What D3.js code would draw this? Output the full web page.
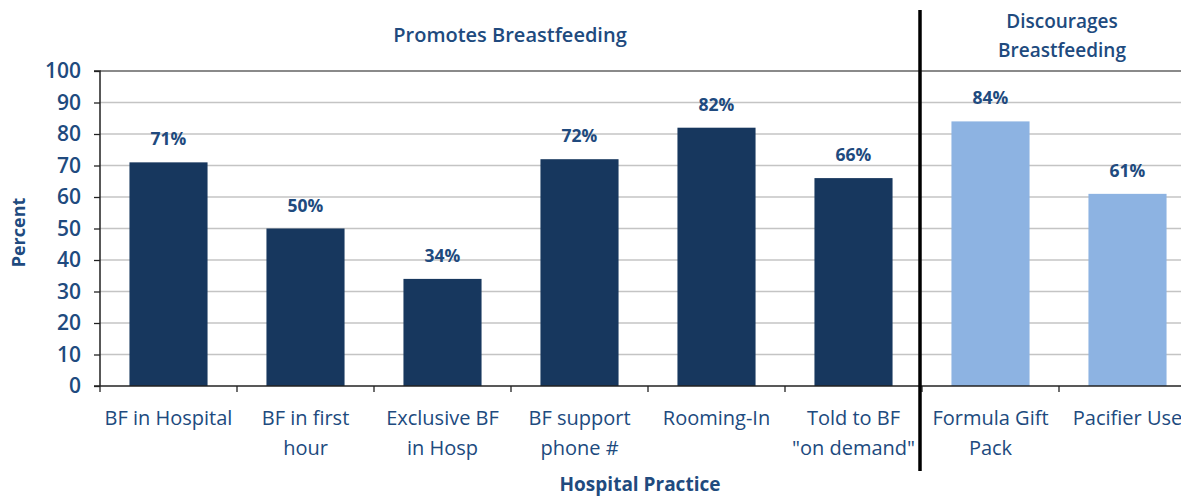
<!DOCTYPE html>
<html>
<head>
<meta charset="utf-8">
<script src="https://cdn.jsdelivr.net/npm/d3@7"></script>
<style>
  body { margin: 0; background: #fff; }
  svg { display: block; font-family: "Open Sans", sans-serif; }
</style>
</head>
<body>
<script>
const categories = [
  ['BF in Hospital'],
  ['BF in first', 'hour'],
  ['Exclusive BF', 'in Hosp'],
  ['BF support', 'phone #'],
  ['Rooming-In'],
  ['Told to BF', '"on demand"'],
  ['Formula Gift', 'Pack'],
  ['Pacifier Use']
];
const values = [71, 50, 34, 72, 82, 66, 84, 61];
const groups = ['promotes', 'promotes', 'promotes', 'promotes', 'promotes', 'promotes', 'discourages', 'discourages'];
const yTicks = [0, 10, 20, 30, 40, 50, 60, 70, 80, 90, 100];

const w = 1181;
const h = 499;
const padding = { top: 71, left: 100, right: -15, bottom: 113 };
const textColor = '#204a7e';

const svg = d3.select('body').append('svg')
  .attr('width', w)
  .attr('height', h);

const xScale = d3.scaleBand()
  .domain(d3.range(categories.length))
  .range([padding.left, w - padding.right])
  .paddingInner(0.43)
  .paddingOuter(0.215);

const yScale = d3.scaleLinear()
  .domain([0, 100])
  .range([h - padding.bottom, padding.top]);

// gridlines
svg.append('g')
  .selectAll('line')
  .data(yTicks.filter(d => d > 0))
  .enter()
  .append('line')
  .attr('x1', padding.left)
  .attr('x2', w)
  .attr('y1', d => yScale(d))
  .attr('y2', d => yScale(d))
  .attr('stroke', d => d === 100 ? '#8a8a8a' : '#c4c4c4')
  .attr('stroke-width', d => d === 100 ? 2 : 1.3);

// bars
svg.append('g')
  .selectAll('rect')
  .data(values)
  .enter()
  .append('rect')
  .attr('x', (d, i) => xScale(i))
  .attr('y', d => yScale(d))
  .attr('width', xScale.bandwidth())
  .attr('height', d => yScale(0) - yScale(d))
  .attr('fill', (d, i) => groups[i] === 'promotes' ? '#17375e' : '#8db3e2');

// value labels
svg.append('g')
  .selectAll('text')
  .data(values)
  .enter()
  .append('text')
  .attr('x', (d, i) => xScale(i) + xScale.bandwidth() / 2)
  .attr('y', d => yScale(d) - 17)
  .attr('text-anchor', 'middle')
  .attr('font-size', 17.5)
  .attr('font-weight', 'bold')
  .attr('fill', textColor)
  .text(d => d + '%');

// y axis
const yAxis = d3.axisLeft(yScale).tickValues(yTicks).tickSize(6).tickPadding(13);
const yG = svg.append('g')
  .attr('transform', `translate(${padding.left}, 0)`)
  .call(yAxis);
yG.select('.domain').attr('stroke', '#222').attr('stroke-width', 1.5).attr('d', `M-6,${yScale(100)}H0V${yScale(0)}`);
yG.selectAll('.tick line').attr('stroke', '#222').attr('stroke-width', 1.3);
yG.selectAll('.tick text')
  .attr('font-size', 21)
  .attr('font-family', '"Open Sans", sans-serif')
  .attr('font-weight', 600)
  .attr('fill', textColor);

// x axis with ticks on category boundaries
const step = xScale.step();
const boundaries = d3.range(categories.length + 1).map(i => padding.left + i * step);
const xG = svg.append('g');
xG.append('line')
  .attr('x1', padding.left - 6)
  .attr('x2', w)
  .attr('y1', yScale(0))
  .attr('y2', yScale(0))
  .attr('stroke', '#222')
  .attr('stroke-width', 1.5);
xG.selectAll('line.tick')
  .data(boundaries)
  .enter()
  .append('line')
  .attr('class', 'tick')
  .attr('x1', d => d)
  .attr('x2', d => d)
  .attr('y1', yScale(0))
  .attr('y2', yScale(0) + 6)
  .attr('stroke', '#222')
  .attr('stroke-width', 1.3);

// category labels
const catText = svg.append('g')
  .selectAll('text')
  .data(categories)
  .enter()
  .append('text')
  .attr('x', (d, i) => xScale(i) + xScale.bandwidth() / 2)
  .attr('y', 425)
  .attr('text-anchor', 'middle')
  .attr('font-size', 20)
  .attr('fill', textColor);
catText.selectAll('tspan')
  .data(d => d)
  .enter()
  .append('tspan')
  .attr('x', function () { return d3.select(this.parentNode).attr('x'); })
  .attr('dy', (d, i) => i === 0 ? 0 : 30)
  .text(d => d);

// divider between the two groups
const divX = padding.left + 6 * step - 2;
svg.append('line')
  .attr('x1', divX)
  .attr('x2', divX)
  .attr('y1', 10)
  .attr('y2', 471)
  .attr('stroke', '#000')
  .attr('stroke-width', 3.5);

// group headings
svg.append('text')
  .attr('x', 510)
  .attr('y', 42)
  .attr('text-anchor', 'middle')
  .attr('font-size', 20)
  .attr('font-weight', 600)
  .attr('fill', textColor)
  .text('Promotes Breastfeeding');

svg.append('text')
  .attr('x', 1062)
  .attr('y', 28)
  .attr('text-anchor', 'middle')
  .attr('font-size', 19)
  .attr('font-weight', 600)
  .attr('fill', textColor)
  .text('Discourages');
svg.append('text')
  .attr('x', 1062)
  .attr('y', 57)
  .attr('text-anchor', 'middle')
  .attr('font-size', 19)
  .attr('font-weight', 600)
  .attr('fill', textColor)
  .text('Breastfeeding');

// axis titles
svg.append('text')
  .attr('transform', `translate(25, ${yScale(50) + 4}) rotate(-90)`)
  .attr('text-anchor', 'middle')
  .attr('font-size', 18)
  .attr('font-weight', 'bold')
  .attr('fill', textColor)
  .text('Percent');

svg.append('text')
  .attr('x', 640)
  .attr('y', 491)
  .attr('text-anchor', 'middle')
  .attr('font-size', 19)
  .attr('font-weight', 'bold')
  .attr('fill', textColor)
  .text('Hospital Practice');
</script>
</body>
</html>
